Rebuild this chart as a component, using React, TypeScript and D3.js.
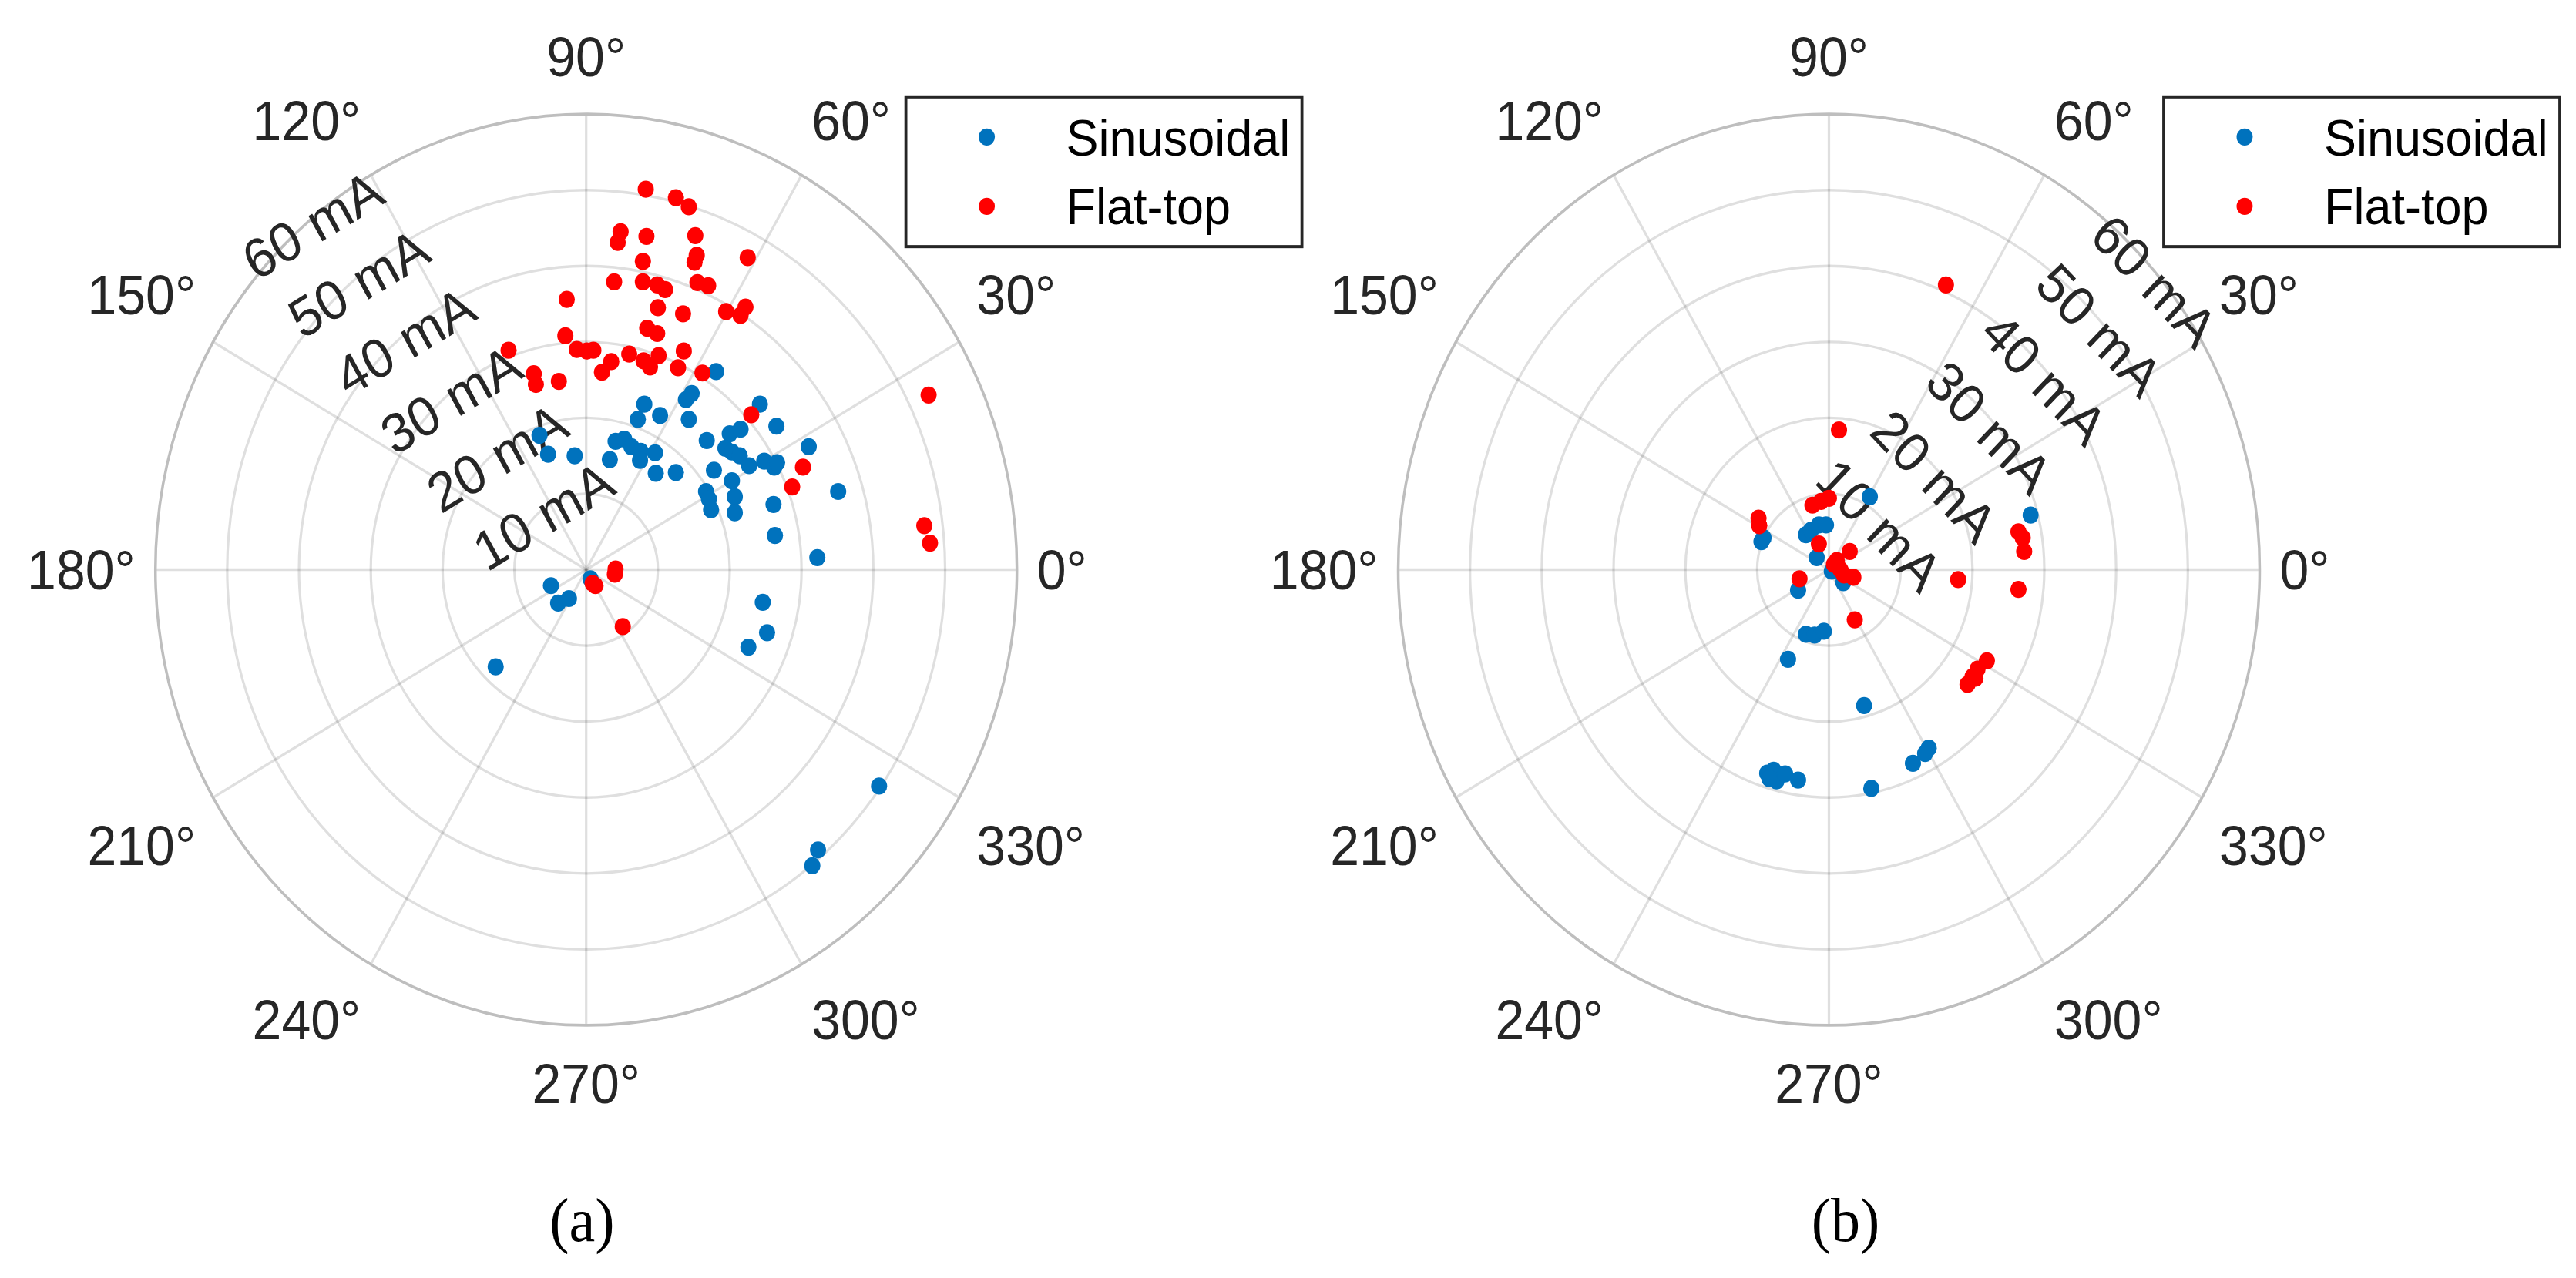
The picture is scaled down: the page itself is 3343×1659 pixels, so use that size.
import { useEffect, useRef } from "react";
import * as d3 from "d3";

// current phasors, [in-phase, quadrature] in mA
type Phasor = [number, number];

// (a)
const sinA: Phasor[] = [
  [18.1, 26.1], [13.9, 22.4], [14.7, 23.2], [8.1, 21.8], [7.2, 19.8], [10.3, 20.3],
  [14.3, 19.8], [24.2, 21.8], [26.5, 18.9], [16.8, 17.0], [20.0, 17.9], [21.5, 18.5],
  [19.4, 16.0], [20.3, 15.5], [21.4, 15.0], [22.7, 13.7], [24.8, 14.3], [26.2, 13.5],
  [26.6, 14.1], [31.0, 16.2], [17.8, 13.1], [20.3, 11.7], [16.7, 10.3], [17.1, 9.3],
  [20.7, 9.6], [17.4, 7.9], [20.7, 7.5], [26.1, 8.6], [35.1, 10.3], [26.3, 4.5],
  [32.2, 1.6], [24.6, -4.3], [25.2, -8.3], [22.6, -10.2], [40.8, -28.5], [32.3, -36.9],
  [31.5, -39.0], [-6.5, 17.7], [-5.3, 15.2], [-1.6, 15.0], [3.3, 14.5], [4.1, 16.9],
  [5.3, 17.2], [6.3, 16.2], [7.6, 15.6], [7.5, 14.4], [9.6, 15.4], [9.7, 12.7],
  [12.5, 12.8], [-4.9, -2.1], [-3.9, -4.4], [-2.4, -3.8], [0.6, -1.2], [-12.6, -12.8],
];
const flatA: Phasor[] = [
  [8.3, 50.1], [12.5, 49.0], [14.3, 47.8], [4.8, 44.5], [4.4, 43.1], [8.4, 43.9],
  [15.2, 44.0], [15.4, 41.4], [15.1, 40.5], [7.9, 40.6], [22.5, 41.1], [3.9, 37.9],
  [7.9, 37.9], [9.9, 37.5], [11.0, 36.9], [15.5, 37.8], [17.0, 37.4], [-2.7, 35.6],
  [10.0, 34.5], [13.5, 33.7], [19.5, 34.0], [21.5, 33.5], [22.2, 34.6], [8.5, 31.8],
  [9.9, 31.1], [-2.9, 30.8], [-10.8, 28.9], [-1.3, 29.0], [0.1, 28.8], [1.0, 28.9],
  [13.6, 28.8], [6.0, 28.4], [3.5, 27.4], [2.2, 26.0], [8.0, 27.5], [10.1, 28.2],
  [8.9, 26.7], [12.8, 26.6], [16.2, 25.9], [-7.3, 25.8], [-7.0, 24.4], [-3.8, 24.8],
  [23.0, 20.4], [47.7, 23.0], [30.2, 13.5], [28.7, 10.9], [47.1, 5.8], [47.9, 3.5],
  [4.1, 0.1], [4.0, -0.6], [1.3, -2.1], [0.9, -1.8], [5.1, -7.5],
];

// (b)
const sinB: Phasor[] = [
  [5.7, 9.6], [28.1, 7.2], [-9.4, 3.7], [-9.1, 4.2], [-3.2, 4.6], [-2.5, 5.2],
  [-1.4, 5.9], [-0.4, 5.9], [-1.7, 1.6], [0.4, -0.2], [2.0, -1.7], [-4.3, -2.7],
  [-3.2, -8.5], [-2.0, -8.6], [-0.7, -8.1], [-5.7, -11.8], [4.9, -17.9], [13.9, -23.5],
  [13.4, -24.2], [11.7, -25.5], [5.9, -28.8], [-8.6, -26.8], [-7.7, -26.4], [-7.3, -27.8],
  [-6.1, -26.9], [-4.3, -27.7], [-8.3, -27.5],
];
const flatB: Phasor[] = [
  [16.3, 37.5], [1.4, 18.4], [-2.3, 8.5], [-1.1, 9.0], [0.0, 9.4], [-9.8, 6.8],
  [-9.7, 5.8], [-1.4, 3.4], [-4.1, -1.2], [2.9, 2.4], [1.1, 1.2], [0.7, 0.7],
  [1.6, 0.0], [2.1, -0.7], [3.4, -1.0], [3.6, -6.6], [18.0, -1.3], [26.4, 5.0],
  [27.0, 4.2], [27.2, 2.4], [26.4, -2.6], [22.0, -12.0], [20.7, -13.1], [20.0, -14.1],
  [19.3, -15.1], [20.4, -14.3],
];

const thetaTicks = [0, 30, 60, 90, 120, 150, 180, 210, 240, 270, 300, 330];
const rTicks = [10, 20, 30, 40, 50, 60];
const seriesNames = ["Sinusoidal", "Flat-top"];
const captions = ["(a)", "(b)"];

const C_SIN = "#0072bd";
const C_FLAT = "#ff0000";
const C_TXT = "#262626";
const SANS = "'Liberation Sans', Arial, Helvetica, sans-serif";

const W = 3343;
const H = 1659;
const STRETCH = 1.058; // the figure was scaled taller than wide
const R = 559;

interface PanelOpts {
  cx: number;
  sin: Phasor[];
  flat: Phasor[];
  labelAngle: number;
  labelRot: number;
  labelShift: number;
  legendX: number;
  caption: string;
  captionX: number;
}

function drawPanel(root: d3.Selection<SVGGElement, unknown, null, undefined>, o: PanelOpts) {
  const cy = 699;
  const r = d3.scaleLinear().domain([0, 60]).range([0, R]);
  const xy = (deg: number, v: number): [number, number] => {
    const a = (deg * Math.PI) / 180;
    return [r(v) * Math.cos(a), -r(v) * Math.sin(a)];
  };
  const g = root.append("g").attr("transform", `translate(${o.cx},${cy})`);

  // Grid
  g.selectAll(".ring").data(rTicks.slice(0, -1)).enter().append("circle")
    .attr("r", d => r(d)).attr("fill", "none")
    .attr("stroke", C_TXT).attr("stroke-opacity", 0.15).attr("stroke-width", 3.2);

  g.selectAll(".spoke").data(thetaTicks).enter().append("line")
    .attr("x1", 0).attr("y1", 0)
    .attr("x2", d => xy(d, 60)[0]).attr("y2", d => xy(d, 60)[1])
    .attr("stroke", C_TXT).attr("stroke-opacity", 0.15).attr("stroke-width", 3.2);

  g.append("circle").attr("r", r(60)).attr("fill", "none")
    .attr("stroke", "#bebebe").attr("stroke-width", 3.5);

  // Theta tick labels
  const fs = 68;
  thetaTicks.forEach(d => {
    const a = (d * Math.PI) / 180;
    const c = Math.cos(a), s = Math.sin(a);
    const anchor = c > 0.1 ? "start" : c < -0.1 ? "end" : "middle";
    const yc = -585 * s - (Math.abs(s) > 0.1 ? 45 * Math.sign(s) : 0);
    g.append("text")
      .attr("x", 585 * c).attr("y", yc + 0.36 * fs)
      .attr("text-anchor", anchor)
      .attr("font-family", SANS).attr("font-size", fs).attr("fill", C_TXT)
      .text(`${d}°`);
  });

  // R tick labels
  rTicks.forEach(v => {
    const a = (o.labelAngle * Math.PI) / 180;
    const rr = r(v) + o.labelShift;
    g.append("text")
      .attr("transform", `translate(${rr * Math.cos(a)},${-rr * Math.sin(a)}) rotate(${o.labelRot})`)
      .attr("y", 0.36 * fs)
      .attr("text-anchor", "middle")
      .attr("font-family", SANS).attr("font-size", fs).attr("fill", C_TXT)
      .text(`${v} mA`);
  });

  // Points
  const toPolar = ([re, im]: Phasor): [number, number] =>
    [(Math.atan2(im, re) * 180) / Math.PI, Math.hypot(re, im)];

  [[o.sin, C_SIN], [o.flat, C_FLAT]].forEach(([data, color]) => {
    g.append("g").selectAll("circle").data((data as Phasor[]).map(toPolar)).enter().append("circle")
      .attr("cx", d => xy(d[0], d[1])[0])
      .attr("cy", d => xy(d[0], d[1])[1])
      .attr("r", 10.5)
      .attr("fill", color as string);
  });

  // Legend
  const lg = root.append("g").attr("transform", `translate(${o.legendX},118.9)`);
  lg.append("rect").attr("width", 514).attr("height", 183.7)
    .attr("fill", "white").attr("stroke", C_TXT).attr("stroke-width", 3.8);
  seriesNames.forEach((name, i) => {
    lg.append("circle").attr("cx", 105).attr("cy", 49.2 + i * 85)
      .attr("r", 10.5).attr("fill", i === 0 ? C_SIN : C_FLAT);
    lg.append("text").attr("x", 208).attr("y", 72.4 + i * 84.2)
      .attr("font-family", SANS).attr("font-size", 63).attr("fill", "#000")
      .text(name);
  });

  // Caption
  root.append("text")
    .attr("x", o.captionX).attr("y", 1523)
    .attr("text-anchor", "middle")
    .attr("font-family", "'Liberation Serif', 'Times New Roman', serif")
    .attr("font-size", 76).attr("fill", "#000")
    .text(o.caption);
}

export default function App() {
  const svgRef = useRef<SVGSVGElement>(null);

  useEffect(() => {
    document.body.style.margin = "0";
    const svg = d3.select(svgRef.current);
    svg.selectAll("*").remove();
    const root = svg.append("g").attr("transform", `scale(1,${STRETCH})`);

    drawPanel(root, {
      cx: 760.7, sin: sinA, flat: flatA,
      labelAngle: 130, labelRot: -30, labelShift: -6,
      legendX: 1175.6, caption: captions[0], captionX: 755.5,
    });
    drawPanel(root, {
      cx: 2373.5, sin: sinB, flat: flatB,
      labelAngle: 40, labelRot: 45, labelShift: -7,
      legendX: 2808, caption: captions[1], captionX: 2395,
    });
  }, []);

  return (
    <svg ref={svgRef} width={W} height={H} style={{ display: "block", background: "white" }} />
  );
}
